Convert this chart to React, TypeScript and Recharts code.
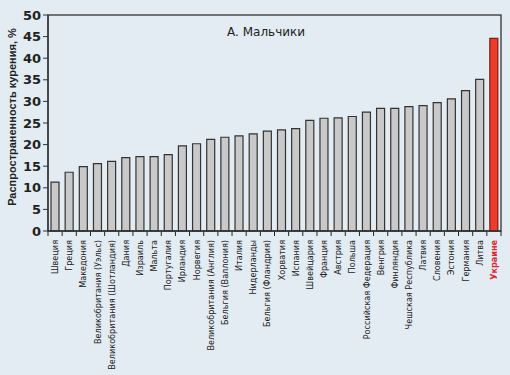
import { BarChart, Bar, XAxis, YAxis, Cell } from 'recharts'

// Распространенность курения, мальчики (%)
const countries = [
  'Швеция', 'Греция', 'Македония', 'Великобритания (Уэльс)', 'Великобритания (Шотландия)',
  'Дания', 'Израиль', 'Мальта', 'Португалия', 'Ирландия', 'Норвегия',
  'Великобритания (Англия)', 'Бельгия (Валлония)', 'Италия', 'Нидерланды', 'Бельгия (Фландрия)',
  'Хорватия', 'Испания', 'Швейцария', 'Франция', 'Австрия', 'Польша',
  'Российская Федерация', 'Венгрия', 'Финляндия', 'Чешская Республика', 'Латвия',
  'Словения', 'Эстония', 'Германия', 'Литва', 'Украине',
]
const prevalence = [
  11.3, 13.6, 14.9, 15.6, 16.1, 17.0, 17.2, 17.2, 17.7, 19.7, 20.2,
  21.2, 21.7, 22.0, 22.5, 23.1, 23.4, 23.7, 25.6, 26.1, 26.2, 26.5,
  27.5, 28.4, 28.4, 28.8, 29.0, 29.7, 30.6, 32.5, 35.1, 44.6,
]
const yTicks = [0, 5, 10, 15, 20, 25, 30, 35, 40, 45, 50]
const highlight = 'Украине'

const data = countries.map((name, i) => ({ name, value: prevalence[i] }))

const W = 510
const H = 375
const LEFT = 48
const RIGHT = 9
const TOP = 15
const XH = 144
const band = (W - LEFT - RIGHT) / countries.length

const font = '"DejaVu Sans", sans-serif'

function CountryTick(props: any) {
  const { x, y, payload, index } = props
  const red = payload.value === highlight
  return (
    <g>
      <line x1={x - band / 2} x2={x - band / 2} y1={y - 8} y2={y - 3} stroke="#222" strokeWidth={1} />
      {index === countries.length - 1 && (
        <line x1={x + band / 2} x2={x + band / 2} y1={y - 8} y2={y - 3} stroke="#222" strokeWidth={1} />
      )}
      <text
        x={0}
        y={0}
        transform={`translate(${x + 3},${y + 1}) rotate(-90)`}
        textAnchor="end"
        fontSize={9}
        fontFamily='"DejaVu Sans Condensed", "DejaVu Sans", sans-serif'
        fontWeight={red ? 700 : 400}
        fill={red ? '#e8202a' : '#222'}
      >
        {payload.value}
      </text>
    </g>
  )
}

export default function App() {
  return (
    <div style={{ width: W, height: H, background: '#e2ecf2', position: 'relative' }}>
      <style>{'body{margin:0}'}</style>
      <BarChart width={W} height={H} data={data} margin={{ top: TOP, right: RIGHT, left: 0, bottom: 0 }}>
        <XAxis
          dataKey="name"
          interval={0}
          height={XH}
          tickLine={false}
          axisLine={{ stroke: '#333', strokeWidth: 1.3 }}
          tick={<CountryTick />}
        />
        <YAxis
          domain={[0, 50]}
          ticks={yTicks}
          width={LEFT}
          axisLine={{ stroke: '#333', strokeWidth: 1.3 }}
          tickLine={{ stroke: '#333' }}
          tickSize={5}
          tick={{ fontSize: 13, fontWeight: 700, fill: '#222', fontFamily: font }}
        />
        <Bar dataKey="value" barSize={8} isAnimationActive={false} stroke="#333" strokeWidth={1.2}>
          {data.map((d, i) => (
            <Cell key={i} fill={d.name === highlight ? '#ee3b2b' : '#c9c9c9'} stroke={d.name === highlight ? '#7a1c14' : '#333'} />
          ))}
        </Bar>
      </BarChart>
      <svg width={W} height={H} style={{ position: 'absolute', left: 0, top: 0, pointerEvents: 'none' }}>
        <rect x={LEFT} y={TOP} width={W - LEFT - RIGHT} height={H - TOP - XH} fill="none" stroke="#333" strokeWidth={1.3} />
        <text x={266} y={36} textAnchor="middle" fontSize={12} fontWeight={500} fontFamily={font} fill="#222">
          А. Мальчики
        </text>
        <text
          transform="translate(16,117) rotate(-90)"
          textAnchor="middle"
          fontSize={11}
          fontWeight={700}
          fontFamily='"Liberation Sans", sans-serif'
          fill="#222"
        >
          Распространенность курения, %
        </text>
      </svg>
    </div>
  )
}
